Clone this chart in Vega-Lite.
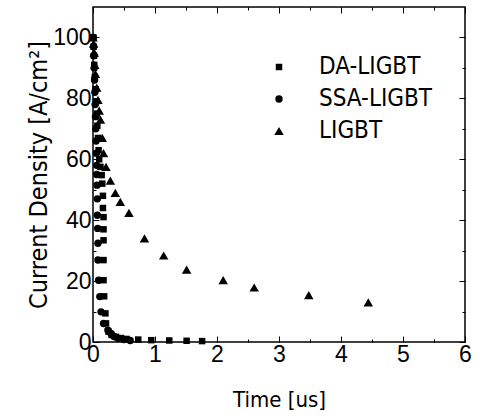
{
  "$schema": "https://vega.github.io/schema/vega-lite/v6.json",
  "width": 372,
  "height": 335,
  "autosize": {"type": "none"},
  "padding": {"left": 93, "top": 7, "right": 17, "bottom": 76},
  "background": "white",
  "config": {
    "view": {"stroke": "black", "strokeWidth": 1.5},
    "font": "Liberation Sans",
    "axis": {"grid": false, "domain": false, "tickColor": "black", "labelColor": "black", "titleColor": "black"}
  },
  "datasets": {
    "pts": [
      {"series": "DA-LIGBT", "t": 0.005, "j": 100},
      {"series": "DA-LIGBT", "t": 0.01, "j": 97},
      {"series": "DA-LIGBT", "t": 0.015, "j": 94},
      {"series": "DA-LIGBT", "t": 0.02, "j": 91},
      {"series": "DA-LIGBT", "t": 0.03, "j": 87},
      {"series": "DA-LIGBT", "t": 0.04, "j": 83},
      {"series": "DA-LIGBT", "t": 0.05, "j": 79},
      {"series": "DA-LIGBT", "t": 0.06, "j": 75},
      {"series": "DA-LIGBT", "t": 0.07, "j": 71},
      {"series": "DA-LIGBT", "t": 0.08, "j": 67},
      {"series": "DA-LIGBT", "t": 0.09, "j": 63},
      {"series": "DA-LIGBT", "t": 0.1, "j": 60},
      {"series": "DA-LIGBT", "t": 0.12, "j": 57.5},
      {"series": "DA-LIGBT", "t": 0.14, "j": 54.8},
      {"series": "DA-LIGBT", "t": 0.15, "j": 52},
      {"series": "DA-LIGBT", "t": 0.16, "j": 48},
      {"series": "DA-LIGBT", "t": 0.16, "j": 44},
      {"series": "DA-LIGBT", "t": 0.17, "j": 41},
      {"series": "DA-LIGBT", "t": 0.17, "j": 37},
      {"series": "DA-LIGBT", "t": 0.17, "j": 33.4},
      {"series": "DA-LIGBT", "t": 0.17, "j": 26.9},
      {"series": "DA-LIGBT", "t": 0.17, "j": 20.3},
      {"series": "DA-LIGBT", "t": 0.18, "j": 15},
      {"series": "DA-LIGBT", "t": 0.2, "j": 9.4},
      {"series": "DA-LIGBT", "t": 0.21, "j": 6.1},
      {"series": "DA-LIGBT", "t": 0.25, "j": 3.4},
      {"series": "DA-LIGBT", "t": 0.3, "j": 2.3},
      {"series": "DA-LIGBT", "t": 0.37, "j": 1.7},
      {"series": "DA-LIGBT", "t": 0.45, "j": 1.3},
      {"series": "DA-LIGBT", "t": 0.54, "j": 1.0},
      {"series": "DA-LIGBT", "t": 0.73, "j": 0.8},
      {"series": "DA-LIGBT", "t": 0.94, "j": 0.6},
      {"series": "DA-LIGBT", "t": 1.23, "j": 0.5},
      {"series": "DA-LIGBT", "t": 1.51, "j": 0.4},
      {"series": "DA-LIGBT", "t": 1.76, "j": 0.3},
      {"series": "SSA-LIGBT", "t": 0.005, "j": 100},
      {"series": "SSA-LIGBT", "t": 0.01, "j": 97},
      {"series": "SSA-LIGBT", "t": 0.015, "j": 94},
      {"series": "SSA-LIGBT", "t": 0.02, "j": 90},
      {"series": "SSA-LIGBT", "t": 0.025, "j": 86},
      {"series": "SSA-LIGBT", "t": 0.03, "j": 82},
      {"series": "SSA-LIGBT", "t": 0.035, "j": 78},
      {"series": "SSA-LIGBT", "t": 0.04, "j": 74},
      {"series": "SSA-LIGBT", "t": 0.045, "j": 70},
      {"series": "SSA-LIGBT", "t": 0.05, "j": 66},
      {"series": "SSA-LIGBT", "t": 0.055, "j": 62},
      {"series": "SSA-LIGBT", "t": 0.06, "j": 58},
      {"series": "SSA-LIGBT", "t": 0.06, "j": 55},
      {"series": "SSA-LIGBT", "t": 0.065, "j": 51.5},
      {"series": "SSA-LIGBT", "t": 0.07, "j": 47},
      {"series": "SSA-LIGBT", "t": 0.07, "j": 41.6},
      {"series": "SSA-LIGBT", "t": 0.075, "j": 37.3},
      {"series": "SSA-LIGBT", "t": 0.08, "j": 32.4},
      {"series": "SSA-LIGBT", "t": 0.08, "j": 26.9},
      {"series": "SSA-LIGBT", "t": 0.09, "j": 20.3},
      {"series": "SSA-LIGBT", "t": 0.11, "j": 14.9},
      {"series": "SSA-LIGBT", "t": 0.13, "j": 9.9},
      {"series": "SSA-LIGBT", "t": 0.17, "j": 6.1},
      {"series": "SSA-LIGBT", "t": 0.24, "j": 3.9},
      {"series": "SSA-LIGBT", "t": 0.29, "j": 2.8},
      {"series": "SSA-LIGBT", "t": 0.34, "j": 1.8},
      {"series": "SSA-LIGBT", "t": 0.4, "j": 1.2},
      {"series": "SSA-LIGBT", "t": 0.5, "j": 0.8},
      {"series": "SSA-LIGBT", "t": 0.6, "j": 0.5},
      {"series": "LIGBT", "t": 0.0, "j": 100},
      {"series": "LIGBT", "t": 0.01, "j": 98},
      {"series": "LIGBT", "t": 0.02, "j": 95},
      {"series": "LIGBT", "t": 0.03, "j": 91},
      {"series": "LIGBT", "t": 0.04, "j": 88},
      {"series": "LIGBT", "t": 0.06, "j": 83.5},
      {"series": "LIGBT", "t": 0.08, "j": 79.5},
      {"series": "LIGBT", "t": 0.1, "j": 76},
      {"series": "LIGBT", "t": 0.12, "j": 73},
      {"series": "LIGBT", "t": 0.15, "j": 67},
      {"series": "LIGBT", "t": 0.17, "j": 62},
      {"series": "LIGBT", "t": 0.21, "j": 57.5},
      {"series": "LIGBT", "t": 0.28, "j": 53},
      {"series": "LIGBT", "t": 0.36, "j": 49},
      {"series": "LIGBT", "t": 0.44, "j": 46},
      {"series": "LIGBT", "t": 0.58, "j": 42.4},
      {"series": "LIGBT", "t": 0.83, "j": 34},
      {"series": "LIGBT", "t": 1.14, "j": 28.4},
      {"series": "LIGBT", "t": 1.51, "j": 23.8},
      {"series": "LIGBT", "t": 2.1, "j": 20.3},
      {"series": "LIGBT", "t": 2.6, "j": 17.9},
      {"series": "LIGBT", "t": 3.48, "j": 15.4},
      {"series": "LIGBT", "t": 4.44, "j": 13}
    ]
  },
  "data": {"name": "pts"},
  "resolve": {"axis": {"x": "independent", "y": "independent"}},
  "layer": [
    {
      "mark": {"type": "point", "filled": true, "opacity": 1, "color": "black", "strokeWidth": 0},
      "encoding": {
        "x": {
          "field": "t", "type": "quantitative",
          "scale": {"domain": [0, 6], "nice": false, "zero": false},
          "axis": {
            "orient": "bottom",
            "values": [0, 0.5, 1, 1.5, 2, 2.5, 3, 3.5, 4, 4.5, 5, 5.5, 6],
            "labelExpr": "datum.value % 1 == 0 ? format(datum.value, 'd') : ''",
            "tickSize": {"condition": {"test": "datum.value % 1 == 0", "value": -6}, "value": -3},
            "tickWidth": 1,
            "labelFontSize": 23,
            "labelPadding": 7,
            "labelFlush": false,
            "labelOverlap": false,
            "title": "Time [us]",
            "titleFont": "DejaVu Sans Condensed, Liberation Sans",
            "titleFontSize": 22,
            "titleFontWeight": "normal",
            "titlePadding": 20
          }
        },
        "y": {
          "field": "j", "type": "quantitative",
          "scale": {"domain": [0, 110], "nice": false},
          "axis": {
            "orient": "left",
            "values": [0, 10, 20, 30, 40, 50, 60, 70, 80, 90, 100],
            "labelExpr": "datum.value % 20 == 0 ? format(datum.value, 'd') : ''",
            "tickSize": {"condition": {"test": "datum.value % 20 == 0", "value": -6}, "value": -3},
            "tickWidth": 1,
            "labelFontSize": 23,
            "labelPadding": 8,
            "labelFlush": false,
            "labelOverlap": false,
            "title": "Current Density [A/cm²]",
            "titleFont": "DejaVu Sans Condensed, Liberation Sans",
            "titleFontSize": 25,
            "titleFontWeight": "normal",
            "titlePadding": 1
          }
        },
        "shape": {
          "field": "series", "type": "ordinal",
          "scale": {"domain": ["DA-LIGBT", "SSA-LIGBT", "LIGBT"], "range": ["square", "circle", "triangle-up"]},
          "legend": {
            "orient": "none", "legendX": 174, "legendY": 48,
            "title": null,
            "labelFont": "DejaVu Sans Condensed, Liberation Sans",
            "labelFontSize": 24,
            "labelColor": "black",
            "symbolFillColor": "black",
            "symbolStrokeColor": "black",
            "symbolStrokeWidth": 0,
            "labelOffset": 28,
            "rowPadding": 8
          }
        },
        "size": {
          "field": "series", "type": "ordinal",
          "scale": {"type": "ordinal", "domain": ["DA-LIGBT", "SSA-LIGBT", "LIGBT"], "range": [42, 55, 90]}
        }
      }
    },
    {
      "mark": {"type": "point", "opacity": 0},
      "encoding": {
        "x": {
          "field": "t", "type": "quantitative",
          "axis": {
            "orient": "top",
            "values": [0, 0.5, 1, 1.5, 2, 2.5, 3, 3.5, 4, 4.5, 5, 5.5, 6],
            "labels": false,
            "tickSize": {"condition": {"test": "datum.value % 1 == 0", "value": -6}, "value": -3},
            "title": null
          }
        },
        "y": {
          "field": "j", "type": "quantitative",
          "axis": {
            "orient": "right",
            "values": [0, 10, 20, 30, 40, 50, 60, 70, 80, 90, 100],
            "labels": false,
            "tickSize": {"condition": {"test": "datum.value % 20 == 0", "value": -6}, "value": -3},
            "title": null
          }
        }
      }
    }
  ]
}
